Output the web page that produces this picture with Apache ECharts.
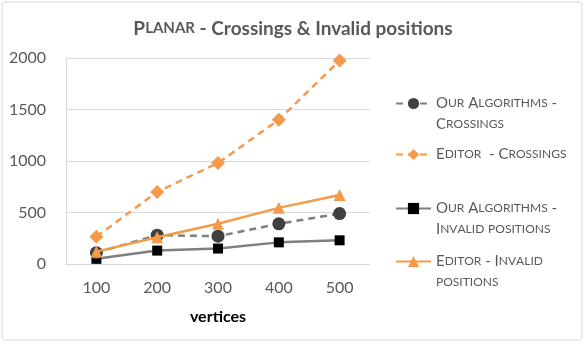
<!DOCTYPE html>
<html>
<head>
<meta charset="utf-8">
<script src="https://cdn.jsdelivr.net/npm/echarts@6/dist/echarts.min.js"></script>
<style>
html, body { margin: 0; padding: 0; background: #fff; }
#chart { width: 586px; height: 345px; }
</style>
</head>
<body>
<div id="chart"></div>
<script>
// 数据
var categories = ['100', '200', '300', '400', '500'];
var ourCrossings = [110, 280, 270, 390, 490];
var editorCrossings = [265, 700, 980, 1400, 1975];
var ourInvalid = [50, 130, 150, 210, 230];
var editorInvalid = [120, 260, 390, 545, 670];

var seriesNames = [
    'Our Algorithms - Crossings',
    'Editor  - Crossings',
    'Our Algorithms - Invalid positions',
    'Editor - Invalid positions'
];
var legendText = [
    'Our Algorithms -\nCrossings',
    'Editor  - Crossings',
    'Our Algorithms -\nInvalid positions',
    'Editor - Invalid\npositions'
];

var orange = '#F5994A';
var font = 'Lato';

// 小型大写字母
function smallCaps(str) {
    return str.split('\n').map(function (line) {
        var out = '';
        for (var i = 0; i < line.length; i++) {
            var ch = line[i];
            if (ch >= 'a' && ch <= 'z') {
                out += '{s|' + ch.toUpperCase() + '}';
            } else {
                out += '{b|' + ch + '}';
            }
        }
        return out;
    }).join('\n');
}

function makeLegend(idx, top) {
    var multi = legendText[idx].indexOf('\n') > -1;
    return {
        data: [seriesNames[idx]],
        left: 395,
        top: top,
        itemWidth: 35,
        itemHeight: 14,
        itemGap: 0,
        padding: 0,
        formatter: function () {
            return smallCaps(legendText[idx]);
        },
        textStyle: {
            padding: multi ? [21, 0, 0, 0] : 0,
            rich: {
                b: { fontFamily: font, fontSize: 15, color: '#595959', lineHeight: 21 },
                s: { fontFamily: font, fontSize: 12, color: '#595959', lineHeight: 21 }
            }
        }
    };
}

var chart = echarts.init(document.getElementById('chart'));

var option = {
    backgroundColor: '#fff',
    animation: false,
    title: {
        text: '{b|P}{s|LANAR}{b| - Crossings & Invalid positions}',
        left: 'center',
        top: 14,
        textStyle: {
            rich: {
                b: { fontFamily: font, fontSize: 19, fontWeight: 'bold', color: '#595959' },
                s: { fontFamily: font, fontSize: 15, fontWeight: 'bold', color: '#595959' }
            }
        }
    },
    graphic: [{
        type: 'rect',
        shape: { x: 2, y: 2, width: 580, height: 338, r: 3 },
        style: { fill: 'none', stroke: '#d9d9d9', lineWidth: 1 },
        silent: true
    }],
    legend: [
        makeLegend(0, 96),
        makeLegend(1, 147),
        makeLegend(2, 201),
        makeLegend(3, 254)
    ],
    grid: {
        left: 66,
        right: 216,
        top: 58,
        bottom: 81
    },
    xAxis: {
        type: 'category',
        data: categories,
        name: 'vertices',
        nameLocation: 'middle',
        nameGap: 45,
        nameTextStyle: { fontFamily: font, fontSize: 16, fontWeight: 'bold', color: '#000' },
        axisLine: { lineStyle: { color: '#d9d9d9' } },
        axisTick: { show: false },
        axisLabel: { fontFamily: font, fontSize: 16, color: '#595959', margin: 16 }
    },
    yAxis: {
        type: 'value',
        min: 0,
        max: 2000,
        interval: 500,
        axisLine: { show: true, lineStyle: { color: '#d9d9d9' } },
        axisTick: { show: false },
        splitLine: { lineStyle: { color: '#d9d9d9' } },
        axisLabel: {
            fontFamily: font,
            fontSize: 16,
            color: '#595959',
            margin: 20,
            formatter: function (value) {
                return String(value);
            }
        }
    },
    series: [
        {
            name: seriesNames[0],
            type: 'line',
            data: ourCrossings,
            symbol: 'circle',
            symbolSize: 13,
            itemStyle: { color: '#404040' },
            lineStyle: { color: '#7f7f7f', width: 2.5, type: [7, 5] },
            z: 3
        },
        {
            name: seriesNames[1],
            type: 'line',
            data: editorCrossings,
            symbol: 'diamond',
            symbolSize: 14,
            itemStyle: { color: orange },
            lineStyle: { color: orange, width: 2.5, type: [7, 5] },
            z: 2
        },
        {
            name: seriesNames[2],
            type: 'line',
            data: ourInvalid,
            symbol: 'rect',
            symbolSize: 10,
            itemStyle: { color: '#000' },
            lineStyle: { color: '#7f7f7f', width: 2.5 },
            z: 2
        },
        {
            name: seriesNames[3],
            type: 'line',
            data: editorInvalid,
            symbol: 'triangle',
            symbolSize: 12,
            itemStyle: { color: orange },
            lineStyle: { color: orange, width: 2.5 },
            z: 4
        }
    ]
};

chart.setOption(option);
</script>
</body>
</html>
